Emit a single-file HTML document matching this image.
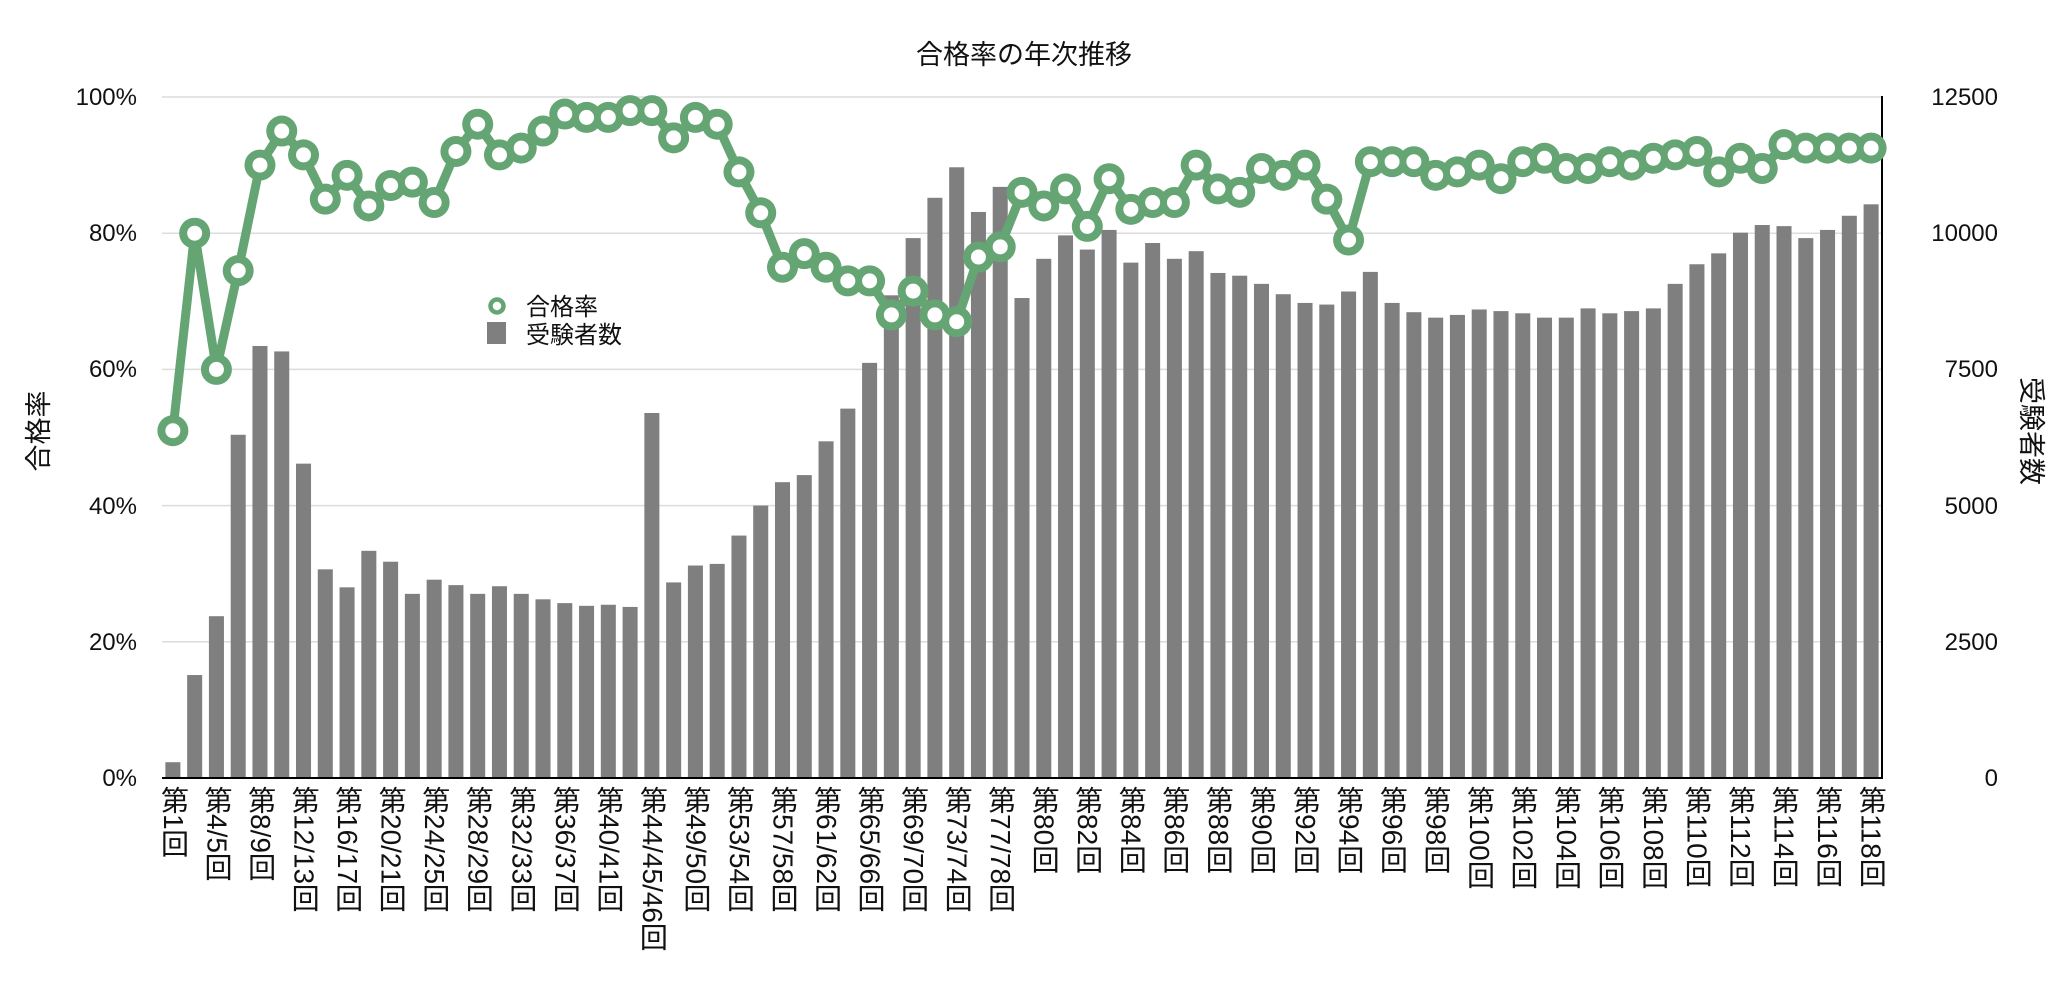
<!DOCTYPE html>
<html><head><meta charset="utf-8"><style>
body{margin:0;background:#fff;width:2048px;height:991px;overflow:hidden;position:relative;font-family:"Liberation Sans","Noto Sans CJK JP",sans-serif}
svg{position:absolute;left:0;top:0}
#xl{position:absolute;left:158px;top:786px;display:flex}
#xl div{width:43.544px;flex:none}
#xl span{display:block;width:30px;writing-mode:vertical-rl;text-orientation:mixed;font-size:28px;line-height:30px;color:#111}
</style></head><body>
<svg width="2048" height="991" font-family="Liberation Sans, Noto Sans CJK JP, sans-serif">
<text x="1024" y="64" font-size="27" text-anchor="middle" fill="#111">合格率の年次推移</text>
<g stroke="#dcdcdc" stroke-width="1.5">
<line x1="162" x2="1882" y1="97" y2="97"/><line x1="162" x2="1882" y1="233.2" y2="233.2"/><line x1="162" x2="1882" y1="369.4" y2="369.4"/><line x1="162" x2="1882" y1="505.6" y2="505.6"/><line x1="162" x2="1882" y1="641.8" y2="641.8"/>
</g>
<g font-size="24" fill="#111" text-anchor="end">
<text x="137" y="105">100%</text><text x="137" y="241">80%</text><text x="137" y="377">60%</text><text x="137" y="514">40%</text><text x="137" y="650">20%</text><text x="137" y="786">0%</text>
<text x="1998" y="105">12500</text><text x="1998" y="241">10000</text><text x="1998" y="377">7500</text><text x="1998" y="514">5000</text><text x="1998" y="650">2500</text><text x="1998" y="786">0</text>
</g>
<text transform="translate(48,431) rotate(-90)" font-size="27" text-anchor="middle" fill="#111">合格率</text>
<text transform="translate(2022,431) rotate(90)" font-size="27" text-anchor="middle" fill="#111">受験者数</text>
<g transform="translate(162,778) scale(21.772,-0.05448)" fill="#7f7f7f">
<rect x="0.155" width="0.69" height="290"/><rect x="1.155" width="0.69" height="1890"/><rect x="2.155" width="0.69" height="2970"/><rect x="3.155" width="0.69" height="6300"/><rect x="4.155" width="0.69" height="7930"/><rect x="5.155" width="0.69" height="7830"/><rect x="6.155" width="0.69" height="5770"/><rect x="7.155" width="0.69" height="3830"/><rect x="8.155" width="0.69" height="3500"/><rect x="9.155" width="0.69" height="4170"/>
<rect x="10.155" width="0.69" height="3970"/><rect x="11.155" width="0.69" height="3380"/><rect x="12.155" width="0.69" height="3640"/><rect x="13.155" width="0.69" height="3540"/><rect x="14.155" width="0.69" height="3380"/><rect x="15.155" width="0.69" height="3520"/><rect x="16.155" width="0.69" height="3380"/><rect x="17.155" width="0.69" height="3280"/><rect x="18.155" width="0.69" height="3210"/><rect x="19.155" width="0.69" height="3160"/>
<rect x="20.155" width="0.69" height="3180"/><rect x="21.155" width="0.69" height="3140"/><rect x="22.155" width="0.69" height="6700"/><rect x="23.155" width="0.69" height="3590"/><rect x="24.155" width="0.69" height="3900"/><rect x="25.155" width="0.69" height="3930"/><rect x="26.155" width="0.69" height="4450"/><rect x="27.155" width="0.69" height="5000"/><rect x="28.155" width="0.69" height="5430"/><rect x="29.155" width="0.69" height="5560"/>
<rect x="30.155" width="0.69" height="6180"/><rect x="31.155" width="0.69" height="6780"/><rect x="32.155" width="0.69" height="7620"/><rect x="33.155" width="0.69" height="8860"/><rect x="34.155" width="0.69" height="9910"/><rect x="35.155" width="0.69" height="10650"/><rect x="36.155" width="0.69" height="11210"/><rect x="37.155" width="0.69" height="10390"/><rect x="38.155" width="0.69" height="10850"/><rect x="39.155" width="0.69" height="8810"/>
<rect x="40.155" width="0.69" height="9530"/><rect x="41.155" width="0.69" height="9960"/><rect x="42.155" width="0.69" height="9700"/><rect x="43.155" width="0.69" height="10060"/><rect x="44.155" width="0.69" height="9460"/><rect x="45.155" width="0.69" height="9820"/><rect x="46.155" width="0.69" height="9530"/><rect x="47.155" width="0.69" height="9670"/><rect x="48.155" width="0.69" height="9270"/><rect x="49.155" width="0.69" height="9220"/>
<rect x="50.155" width="0.69" height="9070"/><rect x="51.155" width="0.69" height="8880"/><rect x="52.155" width="0.69" height="8720"/><rect x="53.155" width="0.69" height="8690"/><rect x="54.155" width="0.69" height="8930"/><rect x="55.155" width="0.69" height="9290"/><rect x="56.155" width="0.69" height="8720"/><rect x="57.155" width="0.69" height="8550"/><rect x="58.155" width="0.69" height="8450"/><rect x="59.155" width="0.69" height="8500"/>
<rect x="60.155" width="0.69" height="8600"/><rect x="61.155" width="0.69" height="8570"/><rect x="62.155" width="0.69" height="8530"/><rect x="63.155" width="0.69" height="8450"/><rect x="64.155" width="0.69" height="8450"/><rect x="65.155" width="0.69" height="8620"/><rect x="66.155" width="0.69" height="8530"/><rect x="67.155" width="0.69" height="8570"/><rect x="68.155" width="0.69" height="8620"/><rect x="69.155" width="0.69" height="9070"/>
<rect x="70.155" width="0.69" height="9430"/><rect x="71.155" width="0.69" height="9630"/><rect x="72.155" width="0.69" height="10010"/><rect x="73.155" width="0.69" height="10150"/><rect x="74.155" width="0.69" height="10130"/><rect x="75.155" width="0.69" height="9910"/><rect x="76.155" width="0.69" height="10060"/><rect x="77.155" width="0.69" height="10320"/><rect x="78.155" width="0.69" height="10530"/>
</g>
<line x1="162" x2="1883" y1="778" y2="778" stroke="#000" stroke-width="2"/>
<line x1="1882" x2="1882" y1="96" y2="779" stroke="#000" stroke-width="2"/>
<g transform="translate(162,778) scale(21.772,-6.81)" fill="none" stroke-linejoin="round" stroke-linecap="round">
<path vector-effect="non-scaling-stroke" stroke="#65a574" stroke-width="9" d="M0.5 51 L1.5 80 L2.5 60 L3.5 74.5 L4.5 90 L5.5 95 L6.5 91.5 L7.5 85 L8.5 88.5 L9.5 84 L10.5 87 L11.5 87.5 L12.5 84.5 L13.5 92 L14.5 96 L15.5 91.5 L16.5 92.5 L17.5 95 L18.5 97.5 L19.5 97 L20.5 97 L21.5 98 L22.5 98 L23.5 94 L24.5 97 L25.5 96 L26.5 89 L27.5 83 L28.5 75 L29.5 77 L30.5 75 L31.5 73 L32.5 73 L33.5 68 L34.5 71.5 L35.5 68 L36.5 67 L37.5 76.5 L38.5 78 L39.5 86 L40.5 84 L41.5 86.5 L42.5 81 L43.5 88 L44.5 83.5 L45.5 84.5 L46.5 84.5 L47.5 90 L48.5 86.5 L49.5 86 L50.5 89.5 L51.5 88.5 L52.5 90 L53.5 85 L54.5 79 L55.5 90.5 L56.5 90.5 L57.5 90.5 L58.5 88.5 L59.5 89 L60.5 90 L61.5 88 L62.5 90.5 L63.5 91 L64.5 89.5 L65.5 89.5 L66.5 90.5 L67.5 90 L68.5 91 L69.5 91.5 L70.5 92 L71.5 89 L72.5 91 L73.5 89.5 L74.5 93 L75.5 92.5 L76.5 92.5 L77.5 92.5 L78.5 92.5"/>
<path vector-effect="non-scaling-stroke" stroke="#65a574" stroke-width="31" d="M0.5 51h0M1.5 80h0M2.5 60h0M3.5 74.5h0M4.5 90h0M5.5 95h0M6.5 91.5h0M7.5 85h0M8.5 88.5h0M9.5 84h0M10.5 87h0M11.5 87.5h0M12.5 84.5h0M13.5 92h0M14.5 96h0M15.5 91.5h0M16.5 92.5h0M17.5 95h0M18.5 97.5h0M19.5 97h0M20.5 97h0M21.5 98h0M22.5 98h0M23.5 94h0M24.5 97h0M25.5 96h0M26.5 89h0M27.5 83h0M28.5 75h0M29.5 77h0M30.5 75h0M31.5 73h0M32.5 73h0M33.5 68h0M34.5 71.5h0M35.5 68h0M36.5 67h0M37.5 76.5h0M38.5 78h0M39.5 86h0M40.5 84h0M41.5 86.5h0M42.5 81h0M43.5 88h0M44.5 83.5h0M45.5 84.5h0M46.5 84.5h0M47.5 90h0M48.5 86.5h0M49.5 86h0M50.5 89.5h0M51.5 88.5h0M52.5 90h0M53.5 85h0M54.5 79h0M55.5 90.5h0M56.5 90.5h0M57.5 90.5h0M58.5 88.5h0M59.5 89h0M60.5 90h0M61.5 88h0M62.5 90.5h0M63.5 91h0M64.5 89.5h0M65.5 89.5h0M66.5 90.5h0M67.5 90h0M68.5 91h0M69.5 91.5h0M70.5 92h0M71.5 89h0M72.5 91h0M73.5 89.5h0M74.5 93h0M75.5 92.5h0M76.5 92.5h0M77.5 92.5h0M78.5 92.5h0"/>
<path vector-effect="non-scaling-stroke" stroke="#fff" stroke-width="15" d="M0.5 51h0M1.5 80h0M2.5 60h0M3.5 74.5h0M4.5 90h0M5.5 95h0M6.5 91.5h0M7.5 85h0M8.5 88.5h0M9.5 84h0M10.5 87h0M11.5 87.5h0M12.5 84.5h0M13.5 92h0M14.5 96h0M15.5 91.5h0M16.5 92.5h0M17.5 95h0M18.5 97.5h0M19.5 97h0M20.5 97h0M21.5 98h0M22.5 98h0M23.5 94h0M24.5 97h0M25.5 96h0M26.5 89h0M27.5 83h0M28.5 75h0M29.5 77h0M30.5 75h0M31.5 73h0M32.5 73h0M33.5 68h0M34.5 71.5h0M35.5 68h0M36.5 67h0M37.5 76.5h0M38.5 78h0M39.5 86h0M40.5 84h0M41.5 86.5h0M42.5 81h0M43.5 88h0M44.5 83.5h0M45.5 84.5h0M46.5 84.5h0M47.5 90h0M48.5 86.5h0M49.5 86h0M50.5 89.5h0M51.5 88.5h0M52.5 90h0M53.5 85h0M54.5 79h0M55.5 90.5h0M56.5 90.5h0M57.5 90.5h0M58.5 88.5h0M59.5 89h0M60.5 90h0M61.5 88h0M62.5 90.5h0M63.5 91h0M64.5 89.5h0M65.5 89.5h0M66.5 90.5h0M67.5 90h0M68.5 91h0M69.5 91.5h0M70.5 92h0M71.5 89h0M72.5 91h0M73.5 89.5h0M74.5 93h0M75.5 92.5h0M76.5 92.5h0M77.5 92.5h0M78.5 92.5h0"/>
</g>
<circle cx="497" cy="306" r="6.5" fill="#fff" stroke="#65a574" stroke-width="4.5"/>
<rect x="487" y="322" width="19" height="22" fill="#7f7f7f"/>
<text x="526" y="315" font-size="24" fill="#111">合格率</text>
<text x="526" y="343" font-size="24" fill="#111">受験者数</text>
</svg>
<div id="xl">
<div><span>第1回</span></div><div><span>第4/5回</span></div><div><span>第8/9回</span></div><div><span>第12/13回</span></div><div><span>第16/17回</span></div><div><span>第20/21回</span></div><div><span>第24/25回</span></div><div><span>第28/29回</span></div><div><span>第32/33回</span></div><div><span>第36/37回</span></div><div><span>第40/41回</span></div><div><span>第44/45/46回</span></div><div><span>第49/50回</span></div><div><span>第53/54回</span></div><div><span>第57/58回</span></div><div><span>第61/62回</span></div><div><span>第65/66回</span></div><div><span>第69/70回</span></div><div><span>第73/74回</span></div><div><span>第77/78回</span></div>
<div><span>第80回</span></div><div><span>第82回</span></div><div><span>第84回</span></div><div><span>第86回</span></div><div><span>第88回</span></div><div><span>第90回</span></div><div><span>第92回</span></div><div><span>第94回</span></div><div><span>第96回</span></div><div><span>第98回</span></div><div><span>第100回</span></div><div><span>第102回</span></div><div><span>第104回</span></div><div><span>第106回</span></div><div><span>第108回</span></div><div><span>第110回</span></div><div><span>第112回</span></div><div><span>第114回</span></div><div><span>第116回</span></div><div><span>第118回</span></div>
</div>
</body></html>
